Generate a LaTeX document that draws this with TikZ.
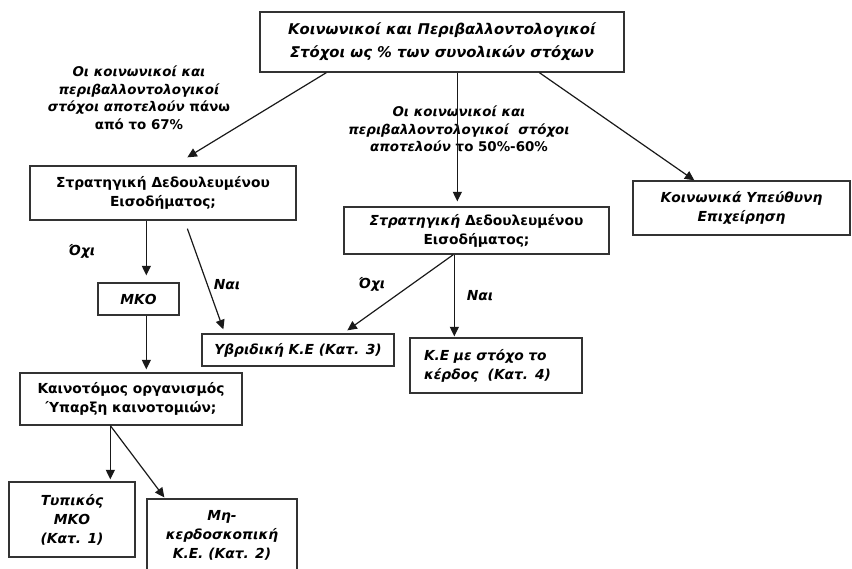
\documentclass[tikz,border=0pt]{standalone}
\usepackage{fontspec}
\setmainfont{DejaVu Sans}
\usetikzlibrary{arrows.meta}
\newcommand\dfont{\fontsize{13.8}{19}\selectfont\bfseries}
\newcommand\tfont{\fontsize{14.8}{23}\selectfont\bfseries}
\newcommand\lfont{\fontsize{13.4}{17.5}\selectfont\bfseries}
\begin{document}
\begin{tikzpicture}[x=1pt,y=-1pt,
  box/.style={draw=black!80,line width=1.3pt,rectangle,inner sep=0pt,align=center,font=\dfont},
  lbl/.style={inner sep=0pt,align=center,font=\lfont},
  arr/.style={-{Triangle[length=9.5pt,width=9pt]},line width=1.2pt,draw=black!90},
]
\useasboundingbox (0,0) rectangle (852,569);

% boxes
\node[box,font=\tfont\itshape,minimum width=364pt,minimum height=60pt] (top) at (442,42)
  {Κοινωνικοί και Περιβαλλοντολογικοί\\Στόχοι ως \% των συνολικών στόχων};
\node[box,minimum width=266pt,minimum height=54pt] (L1) at (163,193)
  {Στρατηγική Δεδουλευμένου\\Εισοδήματος;};
\node[box,minimum width=265pt,minimum height=47pt] (M1) at (476.5,230.5)
  {{\itshape Στρατηγική} Δεδουλευμένου\\Εισοδήματος;};
\node[box,font=\dfont\itshape,minimum width=217pt,minimum height=54pt] (R1) at (741.5,208)
  {Κοινωνικά Υπεύθυνη\\Επιχείρηση};
\node[box,font=\dfont\itshape,minimum width=81pt,minimum height=32pt] (MKO) at (138.5,299)
  {ΜΚΟ};
\node[box,font=\dfont\itshape,minimum width=192pt,minimum height=32pt] (Hyb) at (298,350)
  {Υβριδική Κ.Ε (Κατ. 3)};
\node[box,font=\dfont\itshape,align=left,minimum width=172pt,minimum height=55pt,text width=144pt,inner xsep=14pt] (K4) at (496,365.5)
  {Κ.Ε με στόχο το\\κέρδος\ \ (Κατ. 4)};
\node[box,minimum width=222pt,minimum height=52pt] (Kain) at (131,399)
  {Καινοτόμος οργανισμός\\Ύπαρξη καινοτομιών;};
\node[box,font=\dfont\itshape,minimum width=126pt,minimum height=75pt] (T1) at (72,519.5)
  {Τυπικός\\ΜΚΟ\\(Κατ. 1)};
\node[box,font=\dfont\itshape,minimum width=150pt,minimum height=72pt] (T2) at (222,535)
  {Μη-\\κερδοσκοπική\\Κ.Ε. (Κατ. 2)};

% labels
\node[lbl] (lab67) at (139,98)
  {{\itshape Οι κοινωνικοί και}\\{\itshape περιβαλλοντολογικοί}\\{\itshape στόχοι αποτελούν} πάνω\\από το 67\%};
\node[lbl] (lab50) at (459,129)
  {{\itshape Οι κοινωνικοί και}\\{\itshape περιβαλλοντολογικοί\ \ στόχοι}\\{\itshape αποτελούν} το 50\%-60\%};
\node[lbl,font=\dfont\itshape] (no1) at (82,251) {Όχι};
\node[lbl,font=\dfont\itshape] (yes1) at (227,285) {Ναι};
\node[lbl,font=\dfont\itshape] (no2) at (372,284) {Όχι};
\node[lbl,font=\dfont\itshape] (yes2) at (480,296) {Ναι};

% connectors
\draw[arr] ([xshift=67pt]top.south west) -- ([xshift=158pt,yshift=8pt]L1.north west);
\draw[arr] ([xshift=198pt]top.south west) -- ([xshift=114pt,yshift=5pt]M1.north west);
\draw[arr] ([xshift=280pt]top.south west) -- ([xshift=62pt]R1.north west);
\draw[arr] ([xshift=117pt]L1.south west) -- ([xshift=49pt,yshift=7pt]MKO.north west);
\draw[arr] ([xshift=158pt,yshift=-8pt]L1.south west) -- ([xshift=22pt,yshift=4pt]Hyb.north west);
\draw[arr] ([xshift=110pt]M1.south west) -- ([xshift=146pt,yshift=3pt]Hyb.north west);
\draw[arr] ([xshift=111pt]M1.south west) -- ([xshift=45pt,yshift=1pt]K4.north west);
\draw[arr] ([xshift=49pt]MKO.south west) -- ([xshift=127pt,yshift=3pt]Kain.north west);
\draw[arr] ([xshift=91pt]Kain.south west) -- ([xshift=102pt,yshift=2pt]T1.north west);
\draw[arr] ([xshift=91pt]Kain.south west) -- ([xshift=18pt,yshift=1pt]T2.north west);
\end{tikzpicture}
\end{document}
